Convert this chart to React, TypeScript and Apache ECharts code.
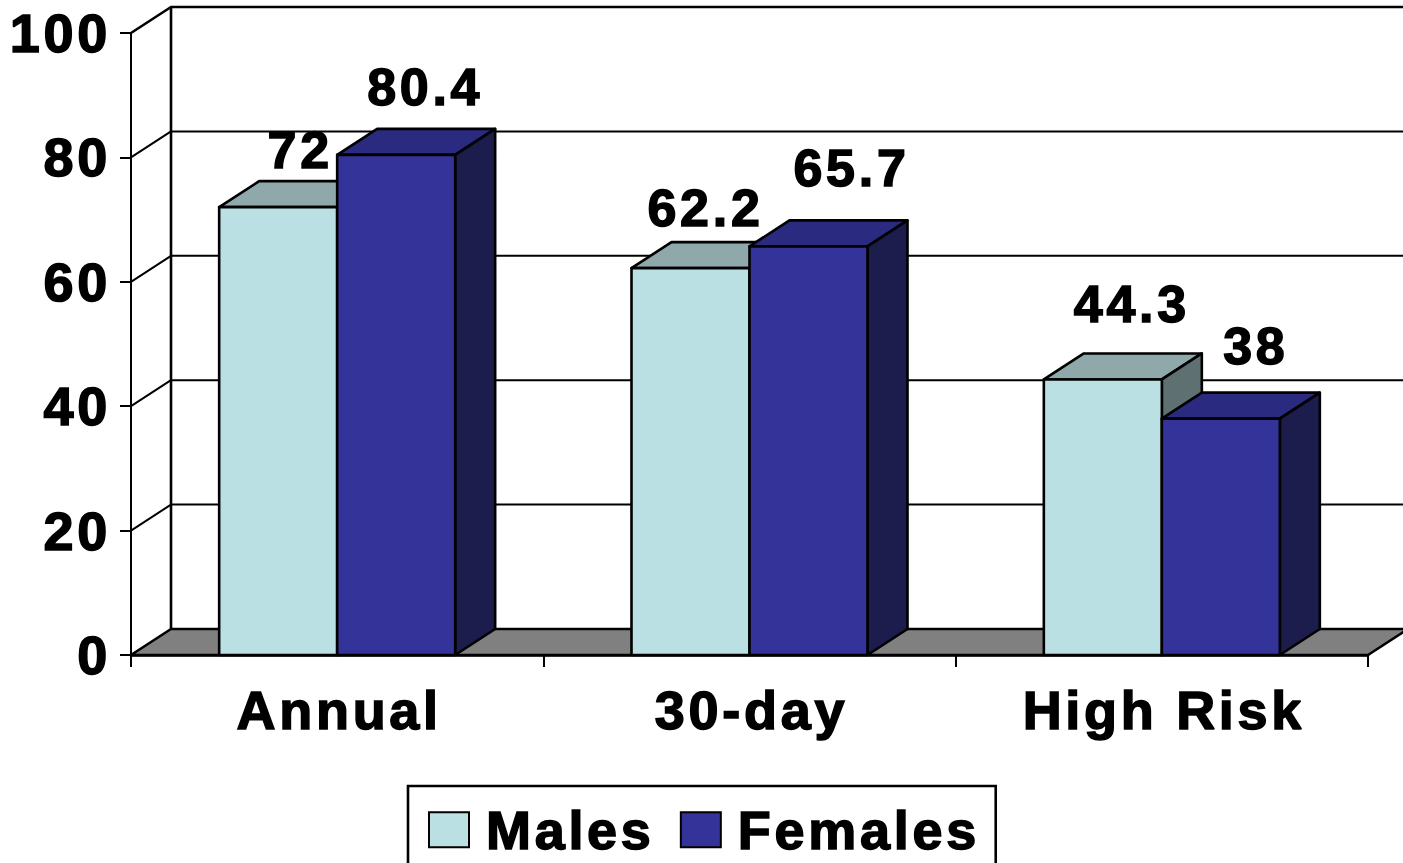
import React, { useEffect, useRef } from "react";
import * as echarts from "echarts";

const categories = ["Annual", "30-day", "High Risk"];
const males = [72, 62.2, 44.3];
const females = [80.4, 65.7, 38];
const yTicks = [0, 20, 40, 60, 80, 100];

const DX = 40;
const DY = -26;
const BAR = 118;
const FONT = "'Liberation Sans', Arial, sans-serif";
const maleLabelShift = [[22, -57], [15, -60], [29, -75]];
const femaleLabelShift = [[29, -68], [43, -78], [35, -73]];

const barStroke = { stroke: "#000", lineWidth: 2.6, lineJoin: "round" };
const gridStroke = { stroke: "#000", lineWidth: 2, lineJoin: "round" };
const wallStroke = { stroke: "#000", lineWidth: 2.6, lineJoin: "round" };
const heavy = { textBorderColor: "#000", textBorderWidth: 1.5 };

function poly(points: number[][], fill: string) {
  return { type: "polygon", shape: { points }, style: { fill, ...barStroke } };
}

function barRenderer(offset: number, front: string, top: string, side: string, shifts: number[][]) {
  return (params: any, api: any) => {
    const cat = api.value(0);
    const val = api.value(1);
    const [cx, y] = api.coord([cat, val]);
    const [, y0] = api.coord([cat, 0]);
    const x0 = cx + offset;
    const x1 = x0 + BAR;
    const [sx, sy] = shifts[params.dataIndex];
    return {
      type: "group",
      children: [
        poly([[x0, y], [x1, y], [x1 + DX, y + DY], [x0 + DX, y + DY]], top),
        poly([[x1, y], [x1 + DX, y + DY], [x1 + DX, y0 + DY], [x1, y0]], side),
        poly([[x0, y], [x1, y], [x1, y0], [x0, y0]], front),
        {
          type: "text",
          x: cx + offset + BAR / 2 + sx,
          y: y + sy,
          style: {
            text: String(val),
            fill: "#000",
            stroke: "#000",
            lineWidth: 1.5,
            font: `bold 52px ${FONT}`,
            align: "center",
            verticalAlign: "middle",
          },
        },
      ],
    };
  };
}

function wallRenderer(params: any, api: any) {
  const v = api.value(0);
  const cs = params.coordSys;
  const [, y] = api.coord([0, v]);
  const left = cs.x;
  const right = cs.x + cs.width;
  const children: any[] = [];
  if (v === 0) {
    children.push({
      type: "polygon",
      shape: { points: [[left, y], [left + DX, y + DY], [right + DX, y + DY], [right, y]] },
      style: { fill: "#808080", ...barStroke },
    });
    children.push({
      type: "line",
      shape: { x1: left + DX, y1: y + DY, x2: left + DX, y2: cs.y + DY },
      style: wallStroke,
    });
  } else {
    children.push({
      type: "polyline",
      shape: { points: [[left, y], [left + DX, y + DY], [right + DX, y + DY]] },
      style: { fill: "none", ...(v === 100 ? wallStroke : gridStroke) },
    });
  }
  return { type: "group", children };
}

export default function App() {
  const ref = useRef<HTMLDivElement>(null);
  useEffect(() => {
    const chart = echarts.init(ref.current!, undefined, { renderer: "svg" });
    chart.setOption({
      animation: false,
      backgroundColor: "#fff",
      grid: { left: 131, top: 33, width: 1237, height: 622 },
      xAxis: {
        type: "category",
        data: categories,
        axisLine: { lineStyle: { color: "#000", width: 2.6 } },
        axisTick: { show: true, length: 12, lineStyle: { color: "#000", width: 2 } },
        axisLabel: {
          color: "#000",
          fontFamily: FONT,
          fontWeight: "bold",
          fontSize: 54,
          margin: 28,
          padding: [0, 0, 0, 4],
          ...heavy,
        },
      },
      yAxis: {
        type: "value",
        min: 0,
        max: 100,
        interval: 20,
        splitLine: { show: false },
        axisLine: { show: true, lineStyle: { color: "#000", width: 2 } },
        axisTick: { show: true, length: 11, lineStyle: { color: "#000", width: 2 } },
        axisLabel: {
          color: "#000",
          fontFamily: FONT,
          fontWeight: "bold",
          fontSize: 54,
          margin: 20,
          padding: [0, 0, 4, 0],
          ...heavy,
        },
      },
      legend: {
        left: 408,
        top: 786,
        data: ["Males", "Females"],
        backgroundColor: "#fff",
        borderColor: "#000",
        borderWidth: 2.6,
        padding: [16, 41, 50, 20],
        itemWidth: 40,
        itemHeight: 35,
        itemGap: 43,
        icon: "rect",
        textStyle: {
          color: "#000",
          fontFamily: FONT,
          fontWeight: "bold",
          fontSize: 54,
          padding: [0, 0, 0, 12],
          ...heavy,
        },
      },
      series: [
        {
          type: "custom",
          name: "wall",
          coordinateSystem: "cartesian2d",
          clip: false,
          z: 1,
          data: yTicks.map((v) => [v]),
          encode: { y: 0 },
          renderItem: wallRenderer,
          silent: true,
        },
        {
          type: "custom",
          name: "Males",
          clip: false,
          z: 2,
          data: males.map((v, i) => [i, v]),
          encode: { x: 0, y: 1 },
          itemStyle: { color: "#BAE0E3", borderColor: "#000", borderWidth: 2.6 },
          renderItem: barRenderer(-BAR, "#BAE0E3", "#8FA8AA", "#5F7072", maleLabelShift),
        },
        {
          type: "custom",
          name: "Females",
          clip: false,
          z: 3,
          data: females.map((v, i) => [i, v]),
          encode: { x: 0, y: 1 },
          itemStyle: { color: "#333399", borderColor: "#000", borderWidth: 2.6 },
          renderItem: barRenderer(0, "#333399", "#2A2A80", "#1C1C4D", femaleLabelShift),
        },
      ],
    });
    return () => chart.dispose();
  }, []);
  return (
    <div
      ref={ref}
      style={{ position: "fixed", left: 0, top: 0, width: 1403, height: 863, letterSpacing: "3.7px" }}
    />
  );
}
